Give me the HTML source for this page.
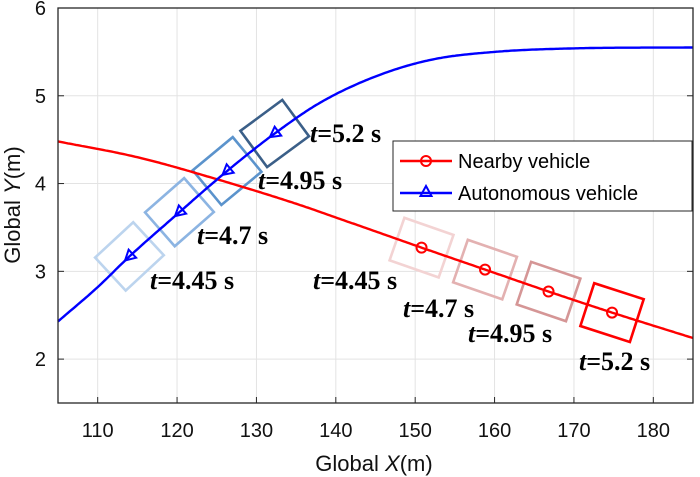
<!DOCTYPE html>
<html><head><meta charset="utf-8"><style>
body{margin:0;background:#fff}
svg{display:block;font-family:"Liberation Sans",Arial,sans-serif}
</style></head><body>
<svg id="chart" width="700" height="477" viewBox="0 0 700 477" xmlns="http://www.w3.org/2000/svg"></svg>
<script>
const xTicks=[110,120,130,140,150,160,170,180];
const yTicks=[2,3,4,5,6];
const autoX=[105,110,114,120,126,132,138,145,152,160,170,185];
const autoY=[2.43,2.82,3.17,3.65,4.12,4.55,4.92,5.22,5.41,5.50,5.54,5.55];
const nearX=[105,115,125,135,142,150.8,158.8,166.8,174.8,185];
const nearY=[4.48,4.30,4.05,3.77,3.55,3.27,3.02,2.77,2.53,2.24];
const autoMarkX=[114,120.3,126.3,132.3];
const nearMarkX=[150.8,158.8,166.8,174.8];
const autoLabels=["t=4.45 s","t=4.7 s","t=4.95 s","t=5.2 s"];
const nearLabels=["t=4.45 s","t=4.7 s","t=4.95 s","t=5.2 s"];
const autoBoxColors=["#bcd4ee","#8cb4e2","#5b93cc","#3b5f88"];
const nearBoxColors=["#f3d3d3","#e3b1b1","#d59696","#ff0000"];

const L=58,R=693,T=8,B=403,X0=105,X1=185,Y0=1.5,Y1=6;
const sx=v=>L+(v-X0)/(X1-X0)*(R-L);
const sy=v=>B-(v-Y0)/(Y1-Y0)*(B-T);
const NS="http://www.w3.org/2000/svg";
const svg=document.getElementById('chart');
function mk(tag,attrs,parent){const e=document.createElementNS(NS,tag);for(const k in attrs)e.setAttribute(k,attrs[k]);(parent||svg).appendChild(e);return e;}

function interp(xs,ys){
  const n=xs.length,d=[],m=[];
  for(let i=0;i<n-1;i++)d.push((ys[i+1]-ys[i])/(xs[i+1]-xs[i]));
  m[0]=d[0];m[n-1]=d[n-2];
  for(let i=1;i<n-1;i++)m[i]=(d[i-1]*d[i]<=0)?0:(d[i-1]+d[i])/2;
  return x=>{let i=0;while(i<n-2&&x>xs[i+1])i++;
    const h=xs[i+1]-xs[i],t=(x-xs[i])/h,t2=t*t,t3=t2*t;
    return (2*t3-3*t2+1)*ys[i]+(t3-2*t2+t)*h*m[i]+(-2*t3+3*t2)*ys[i+1]+(t3-t2)*h*m[i+1];};
}
const fA=interp(autoX,autoY), fN=interp(nearX,nearY);

const grid=mk('g',{});


xTicks.forEach(v=>mk('line',{x1:sx(v),x2:sx(v),y1:T,y2:B,stroke:'#e3e3e3','stroke-width':1},grid));
yTicks.forEach(v=>mk('line',{x1:L,x2:R,y1:sy(v),y2:sy(v),stroke:'#e3e3e3','stroke-width':1},grid));

function heading(f,v){return Math.atan2(sy(f(v+0.05))-sy(f(v-0.05)),sx(v+0.05)-sx(v-0.05))*180/Math.PI;}
function boxes(f,xs,cols,name){
  xs.forEach((v,i)=>{
    const px=sx(v),py=sy(f(v)),ang=heading(f,v);
    const r=mk('rect',{x:px-26,y:py-22.5,width:52,height:45,fill:'none',stroke:cols[i],'stroke-width':2.6,transform:`rotate(${ang} ${px} ${py})`});
    
    
  });
}
boxes(fA,autoMarkX,autoBoxColors,'autonomous');
boxes(fN,nearMarkX,nearBoxColors,'nearby');

function curve(f,color,name){
  let d='';for(let x=X0;x<=X1+1e-9;x+=0.25)d+=(d?'L':'M')+sx(x).toFixed(1)+','+sy(f(x)).toFixed(1);
  const p=mk('path',{d:d,fill:'none',stroke:color,'stroke-width':2.4});
  
  
}
curve(fN,'#ff0000','nearby-vehicle-line');
curve(fA,'#0000ff','autonomous-vehicle-line');

nearMarkX.forEach((v,i)=>{
  const c=mk('circle',{cx:sx(v),cy:sy(fN(v)),r:5,fill:'none',stroke:'#ff0000','stroke-width':2});
  
  
});
autoMarkX.forEach((v,i)=>{
  const px=sx(v),py=sy(fA(v)),ang=heading(fA,v);
  const t=mk('polygon',{points:`${px},${py-6} ${px-5.5},${py+4} ${px+5.5},${py+4}`,fill:'none',stroke:'#0000ff','stroke-width':2,transform:`rotate(${ang-90} ${px} ${py})`});
  
  
});

const autoLabPos=[[150,289],[197,244],[258,189],[310,142]];
const nearLabPos=[[313,289],[403,317],[468,342],[579,370]];
function labels(arr,pos,name){
  arr.forEach((s,i)=>{
    const t=mk('text',{x:pos[i][0],y:pos[i][1],'font-family':'Liberation Serif, serif','font-weight':'bold','font-size':26,fill:'#000'});
    t.innerHTML='<tspan font-style="italic">t</tspan>'+s.slice(1);
    
    
  });
}
labels(autoLabels,autoLabPos,'autonomous');
labels(nearLabels,nearLabPos,'nearby');

const ax=mk('rect',{x:L,y:T,width:R-L,height:B-T,fill:'none',stroke:'#262626','stroke-width':1.3});


xTicks.forEach(v=>{
  mk('line',{x1:sx(v),x2:sx(v),y1:B,y2:B-6,stroke:'#262626'});
  const t=mk('text',{x:sx(v),y:B+34,'font-size':20,'text-anchor':'middle',fill:'#111'});
  t.textContent=v;
  
  
});
yTicks.forEach(v=>{
  mk('line',{x1:L,x2:L+6,y1:sy(v),y2:sy(v),stroke:'#262626'});
  mk('line',{x1:R,x2:R-6,y1:sy(v),y2:sy(v),stroke:'#262626'});
  const t=mk('text',{x:L-12,y:sy(v)+7,'font-size':20,'text-anchor':'end',fill:'#111'});
  t.textContent=v;
  
  
});
</script>
<svg style="position:absolute;left:0;top:0" width="700" height="477">
<text x="374" y="471" font-size="22" text-anchor="middle" fill="#111" font-family="Liberation Sans, sans-serif">Global <tspan font-style="italic">X</tspan>(m)</text>
<text transform="translate(20,205) rotate(-90)" font-size="22" text-anchor="middle" fill="#111" font-family="Liberation Sans, sans-serif">Global <tspan font-style="italic">Y</tspan>(m)</text>
<g>
<rect x="393" y="141" width="299" height="70" fill="#fff" stroke="#262626" stroke-width="1"/>
<g>
<line x1="400" x2="452" y1="161" y2="161" stroke="#ff0000" stroke-width="2.4"/>
<circle cx="426" cy="161" r="5" fill="none" stroke="#ff0000" stroke-width="2"/>
<text x="458" y="168" font-size="20" fill="#000" font-family="Liberation Sans, sans-serif">Nearby vehicle</text>
</g>
<g>
<line x1="400" x2="452" y1="193" y2="193" stroke="#0000ff" stroke-width="2.4"/>
<polygon points="426,186 420.5,196 431.5,196" fill="none" stroke="#0000ff" stroke-width="2"/>
<text x="458" y="200" font-size="20" fill="#000" font-family="Liberation Sans, sans-serif">Autonomous vehicle</text>
</g>
</g>
</svg>
</body></html>
